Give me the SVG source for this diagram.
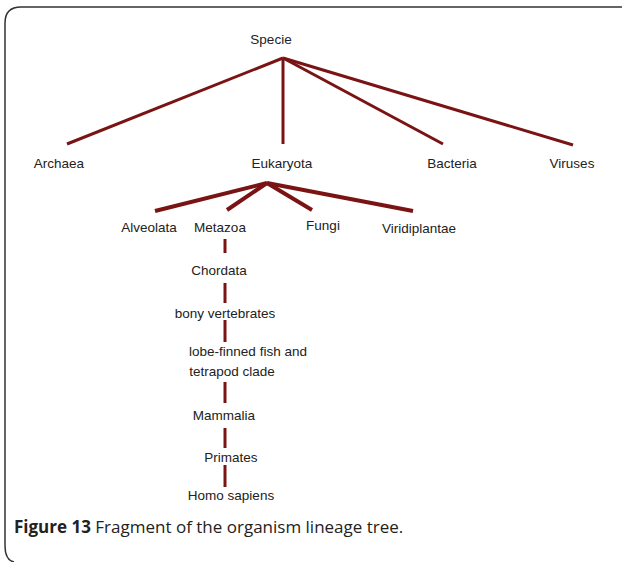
<svg xmlns="http://www.w3.org/2000/svg" width="624" height="562" viewBox="0 0 624 562">
<style>
.lbl{font-family:"Liberation Sans",Arial,sans-serif;font-size:13.5px;fill:#222;text-anchor:middle}
.e{stroke:#7a1414;fill:none;stroke-linecap:butt}
.cap{font-family:"Open Sans","Noto Sans",sans-serif;font-size:17px;fill:#222}
</style>
<rect width="624" height="562" fill="#fff"/>
<path d="M622 7 H21 Q5 7 5 23 V546 Q5 560 14 562" fill="none" stroke="#333" stroke-width="1.5"/>
<g id="connectors">
<g class="e" stroke-width="3">
<line x1="283" y1="58" x2="67" y2="144"/>
<line x1="283" y1="58" x2="283" y2="144"/>
<line x1="283" y1="58" x2="443" y2="144"/>
<line x1="283" y1="58" x2="573" y2="145"/>
</g>
<g class="e" stroke-width="4">
<line x1="267" y1="183" x2="155" y2="211"/>
<line x1="267" y1="183" x2="227" y2="210"/>
<line x1="267" y1="183" x2="312" y2="210"/>
<line x1="267" y1="183" x2="413" y2="211"/>
</g>
<g class="e" stroke-width="3">
<line x1="225" y1="239" x2="225" y2="253"/>
<line x1="225" y1="283" x2="225" y2="303"/>
<line x1="225" y1="320" x2="225" y2="342"/>
<line x1="225" y1="382" x2="225" y2="403"/>
<line x1="225" y1="428" x2="225" y2="448"/>
<line x1="225" y1="465" x2="225" y2="487"/>
</g>
</g>
<g id="specie"><text class="lbl" x="271" y="44">Specie</text></g>
<g id="archaea"><text class="lbl" x="59" y="168">Archaea</text></g>
<g id="eukaryota"><text class="lbl" x="282" y="168">Eukaryota</text></g>
<g id="bacteria"><text class="lbl" x="452" y="168">Bacteria</text></g>
<g id="viruses"><text class="lbl" x="572" y="168">Viruses</text></g>
<g id="alveolata"><text class="lbl" x="149" y="232">Alveolata</text></g>
<g id="metazoa"><text class="lbl" x="220" y="232">Metazoa</text></g>
<g id="fungi"><text class="lbl" x="323" y="230">Fungi</text></g>
<g id="viridiplantae"><text class="lbl" x="419" y="233">Viridiplantae</text></g>
<g id="chordata"><text class="lbl" x="219" y="275">Chordata</text></g>
<g id="bony"><text class="lbl" x="225" y="318">bony vertebrates</text></g>
<g id="lobe"><text class="lbl" x="248" y="356">lobe-finned fish and</text><text class="lbl" x="232" y="376">tetrapod clade</text></g>
<g id="mammalia"><text class="lbl" x="224" y="420">Mammalia</text></g>
<g id="primates"><text class="lbl" x="231" y="462">Primates</text></g>
<g id="homo"><text class="lbl" x="231" y="500">Homo sapiens</text></g>
<text class="cap" x="14" y="533"><tspan font-weight="bold">Figure 13</tspan> Fragment of the organism lineage tree.</text>
</svg>
